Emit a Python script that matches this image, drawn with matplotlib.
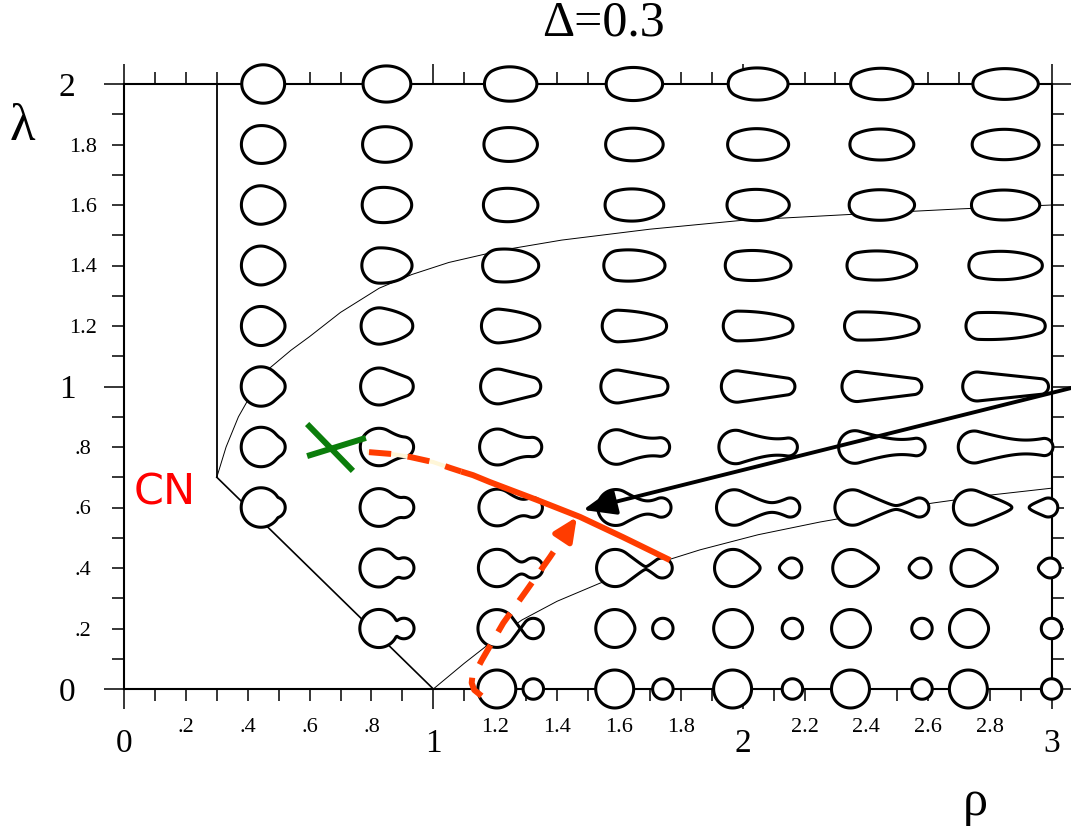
import numpy as np
import matplotlib
matplotlib.use("Agg")
import matplotlib.pyplot as plt
from matplotlib.patches import Polygon

plt.rcParams["lines.scale_dashes"] = False
SERIF = "Liberation Serif"

# asymmetry of the shapes
delta = 0.3

# grid of drawn shapes: column centres (rho) and rows (lambda)
col_rho = [0.45, 0.85, 1.25, 1.65, 2.05, 2.45, 2.85]
row_lam = [0.0, 0.2, 0.4, 0.6, 0.8, 1.0, 1.2, 1.4, 1.6, 1.8, 2.0]
first_row = [3, 1, 0, 0, 0, 0, 0]  # lowest row that has a shape, per column
# neck coefficient of the top row (lambda = 2), per column
top_coef = [-0.8, -0.55, -0.4, -0.32, -0.27, -0.24, -0.21]

# boundary lines
vert_rho = [0.3, 0.3]
vert_lam = [0.7, 2.0]
diag_rho = [0.3, 1.0]
diag_lam = [0.7, 0.0]
upper_rho = [0.3, 0.33, 0.37, 0.42, 0.47, 0.54, 0.6, 0.7, 0.825, 0.93, 1.05,
             1.224, 1.415, 1.7, 2.005, 2.352, 2.7, 3.0]
upper_lam = [0.7, 0.8, 0.9, 0.99, 1.06, 1.12, 1.165, 1.245, 1.325, 1.37, 1.41,
             1.451, 1.484, 1.52, 1.55, 1.569, 1.587, 1.6]
sciss_rho = [1.0, 1.1, 1.2, 1.286, 1.4, 1.539, 1.7, 1.862, 2.05, 2.25, 2.45,
             2.616, 2.8, 3.0]
sciss_lam = [0.0, 0.085, 0.165, 0.228, 0.29, 0.35, 0.408, 0.46, 0.51, 0.552,
             0.588, 0.615, 0.641, 0.664]

# hand drawn path (red), the dashed arrow, the black arrow, the green cross
path_dash_rho = [0.792, 0.864, 0.925, 1.0, 1.054, 1.09]
path_dash_lam = [0.783, 0.777, 0.767, 0.750, 0.731, 0.719]
path_solid_rho = [1.09, 1.128, 1.183, 1.335, 1.474, 1.613, 1.765]
path_solid_lam = [0.719, 0.707, 0.684, 0.625, 0.569, 0.502, 0.426]
up_rho = [1.156, 1.132, 1.124, 1.126, 1.135, 1.157, 1.226, 1.302, 1.377, 1.44]
up_lam = [-0.023, -0.003, 0.020, 0.040, 0.053, 0.096, 0.218, 0.327, 0.436, 0.532]
up_tip = (1.464, 0.569)
blk_from = (3.062, 0.995)
blk_to = (1.484, 0.592)
green_a = ([0.592, 0.740], [0.876, 0.721])
green_b = ([0.592, 0.782], [0.770, 0.830])

R1, R2 = 1 + delta, 1 - delta
S_PX = 14.6            # sphere unit in pixels
PX_X = 928 / 3.0       # pixels per rho unit
PX_Y = 605 / 2.0       # pixels per lambda unit


def neck_coef(rho, lam, c_two):
    # z^2 coefficient of the quadric neck, None = two free spheres
    d = rho * (R1 + R2)
    c_ext = delta ** 2 / (rho ** 2 - delta ** 2)      # conical neck
    lam_up = np.interp(rho, upper_rho, upper_lam)
    c_top = (R1 ** 2 + R2 ** 2 - 2 * R2 * (d + R2)) / ((d + R2) ** 2 - R1 ** 2)
    if lam >= lam_up:
        return c_top + (c_two - c_top) * (lam - lam_up) / (2.0 - lam_up)
    if lam >= 1:
        return c_ext + (c_top - c_ext) * (lam - 1) / (lam_up - 1)
    if rho > 1:
        lam_sc = np.interp(rho, sciss_rho, sciss_lam)
        c_int = 1 / (rho ** 2 - 1)
        if lam < lam_sc:
            if lam <= 0:
                return None
            return c_int * lam_sc / lam
        t0, lo = np.arctan(c_int), lam_sc
    else:
        t0, lo = np.pi / 2, max(1 - rho, 0)
    th = t0 + (np.arctan(c_ext) - t0) * (lam - lo) / (1 - lo)
    return np.tan(th)


def profile(C, d, z):
    if C is None:
        return np.maximum(R1 ** 2 - z ** 2, R2 ** 2 - (z - d) ** 2)
    K = d * d + R1 ** 2 - R2 ** 2
    B = d - (1 + C) * K / d
    A = R1 ** 2 + B * B / (4 * (1 + C))
    z1 = -B / (2 * (1 + C))
    z2 = (2 * d - B) / (2 * (1 + C))
    q = A + B * z + C * z * z
    return np.where(z < z1, R1 ** 2 - z ** 2, np.where(z > z2, R2 ** 2 - (z - d) ** 2, q))


def outlines(rho, lam, c_two):
    d = rho * (R1 + R2)
    C = neck_coef(rho, lam, c_two)
    z = np.linspace(-R1 - 1.0, d + R2 + 1.0, 6000)
    p = profile(C, d, z)
    pos = p > 0
    vol = np.sum(np.where(pos, p, 0)) * (z[1] - z[0])
    f = ((4.0 / 3.0) * (R1 ** 3 + R2 ** 3) / vol) ** (1 / 3)
    pieces = []
    i = 0
    n = len(z)
    while i < n:
        if not pos[i]:
            i += 1
            continue
        j = i
        while j + 1 < n and pos[j + 1]:
            j += 1
        zl = z[i - 1] + (z[i] - z[i - 1]) * (-p[i - 1]) / (p[i] - p[i - 1])
        zr = z[j] + (z[j + 1] - z[j]) * p[j] / (p[j] - p[j + 1])
        zs = np.concatenate([[zl], z[i:j + 1], [zr]])
        ys = np.concatenate([[0], np.sqrt(p[i:j + 1]), [0]])
        pieces.append((zs, ys))
        i = j + 1
    zmin = min(pc[0][0] for pc in pieces)
    zmax = max(pc[0][-1] for pc in pieces)
    zc = 0.5 * (zmin + zmax)
    out = []
    for zs, ys in pieces:
        xx = np.concatenate([zs, zs[::-1]])
        yy = np.concatenate([ys, -ys[::-1]])
        out.append(np.column_stack([rho + (xx - zc) * f * S_PX / PX_X,
                                    lam + yy * f * S_PX / PX_Y]))
    return out


fig = plt.figure(figsize=(10.71, 8.26), dpi=100)
ax = fig.add_axes([124 / 1071, 137 / 826, 928 / 1071, 605 / 826])
ax.set_xlim(0, 3)
ax.set_ylim(0, 2)

for s in ax.spines.values():
    s.set_linewidth(1.5)

# ticks
xmaj = [0, 1, 2, 3]
ymaj = [0, 1, 2]
xmin = [k / 10 for k in range(1, 30) if k % 10]
ymin = [k / 10 for k in range(1, 20) if k % 10]


def small_label(v):
    if int(round(v * 10)) % 2:
        return ""
    t = "%.1f" % v
    return t[1:] if t.startswith("0") else t


ax.set_xticks(xmaj, [str(v) for v in xmaj])
ax.set_yticks(ymaj, [str(v) for v in ymaj])
ax.set_xticks(xmin, [small_label(v) for v in xmin], minor=True)
ax.set_yticks(ymin, [small_label(v) for v in ymin], minor=True)
ax.tick_params(which="major", direction="out", length=14.4, width=1.1,
               top=True, right=True, labelsize=24)
ax.tick_params(which="minor", direction="out", length=8.6, width=1.1,
               top=True, right=True, labelsize=16)
ax.tick_params(axis="x", which="major", pad=14)
ax.tick_params(axis="x", which="minor", pad=12)
ax.tick_params(axis="y", which="major", pad=26.6)
ax.tick_params(axis="y", which="minor", pad=21)
for lbl in ax.get_xticklabels() + ax.get_xticklabels(minor=True):
    lbl.set_fontfamily(SERIF)
for lbl in ax.get_yticklabels() + ax.get_yticklabels(minor=True):
    lbl.set_fontfamily(SERIF)
    lbl.set_ha("center")

# boundary lines
ax.plot(vert_rho, vert_lam, color="black", lw=1.3, zorder=2)
ax.plot(diag_rho, diag_lam, color="black", lw=1.2, zorder=2)
ax.plot(upper_rho, upper_lam, color="black", lw=0.7, zorder=2)
ax.plot(sciss_rho, sciss_lam, color="black", lw=0.7, zorder=2)

# shapes
for ci, rho in enumerate(col_rho):
    for lam in row_lam[first_row[ci]:]:
        for xy in outlines(rho, lam, top_coef[ci]):
            ax.add_patch(Polygon(xy, closed=True, fc="white", ec="black",
                                 lw=2.2, zorder=3, clip_on=False))

# red path
RED = "#ff3c00"
ax.plot(path_dash_rho, path_dash_lam, color="#fff6d8", lw=3, zorder=5)
ax.plot(path_dash_rho, path_dash_lam, color=RED, lw=4.3, dashes=(16, 12),
        zorder=6, solid_capstyle="butt")
ax.plot(path_solid_rho, path_solid_lam, color=RED, lw=4.3, zorder=6,
        solid_capstyle="butt")
ax.plot(up_rho, up_lam, color=RED, lw=4.3, dashes=(16, 11), zorder=6,
        clip_on=False)
ax.annotate("", xy=up_tip, xytext=(up_rho[-1], up_lam[-1]),
            arrowprops=dict(arrowstyle="-|>,head_length=1.0,head_width=0.46",
                            color=RED, lw=4.0, shrinkA=0, shrinkB=0,
                            mutation_scale=14),
            zorder=6, annotation_clip=False)

# black arrow
ax.annotate("", xy=blk_to, xytext=blk_from,
            arrowprops=dict(arrowstyle="-|>,head_length=1.0,head_width=0.4",
                            color="black", lw=2.8, shrinkA=0, shrinkB=0,
                            mutation_scale=20),
            zorder=6, annotation_clip=False)

# green cross
GREEN = "#0b7d0b"
ax.plot(*green_a, color=GREEN, lw=4.3, zorder=6, solid_capstyle="butt")
ax.plot(*green_b, color=GREEN, lw=4.3, zorder=6, solid_capstyle="butt")

ax.text(0.131, 0.648, "CN", color="red", fontsize=31, ha="center",
        va="center", family="DejaVu Sans", zorder=6)

fig.text(603 / 1071, 1 - 23 / 826, "\u0394=0.3", fontsize=36, family=SERIF,
         ha="center", va="center")
fig.text(22 / 1071, 1 - 127 / 826, "\u03bb", fontsize=38, family=SERIF,
         ha="center", va="center")
fig.text(975 / 1071, 1 - 803 / 826, "\u03c1", fontsize=36, family=SERIF,
         ha="center", va="center")

fig.savefig("out.png", dpi=100)
